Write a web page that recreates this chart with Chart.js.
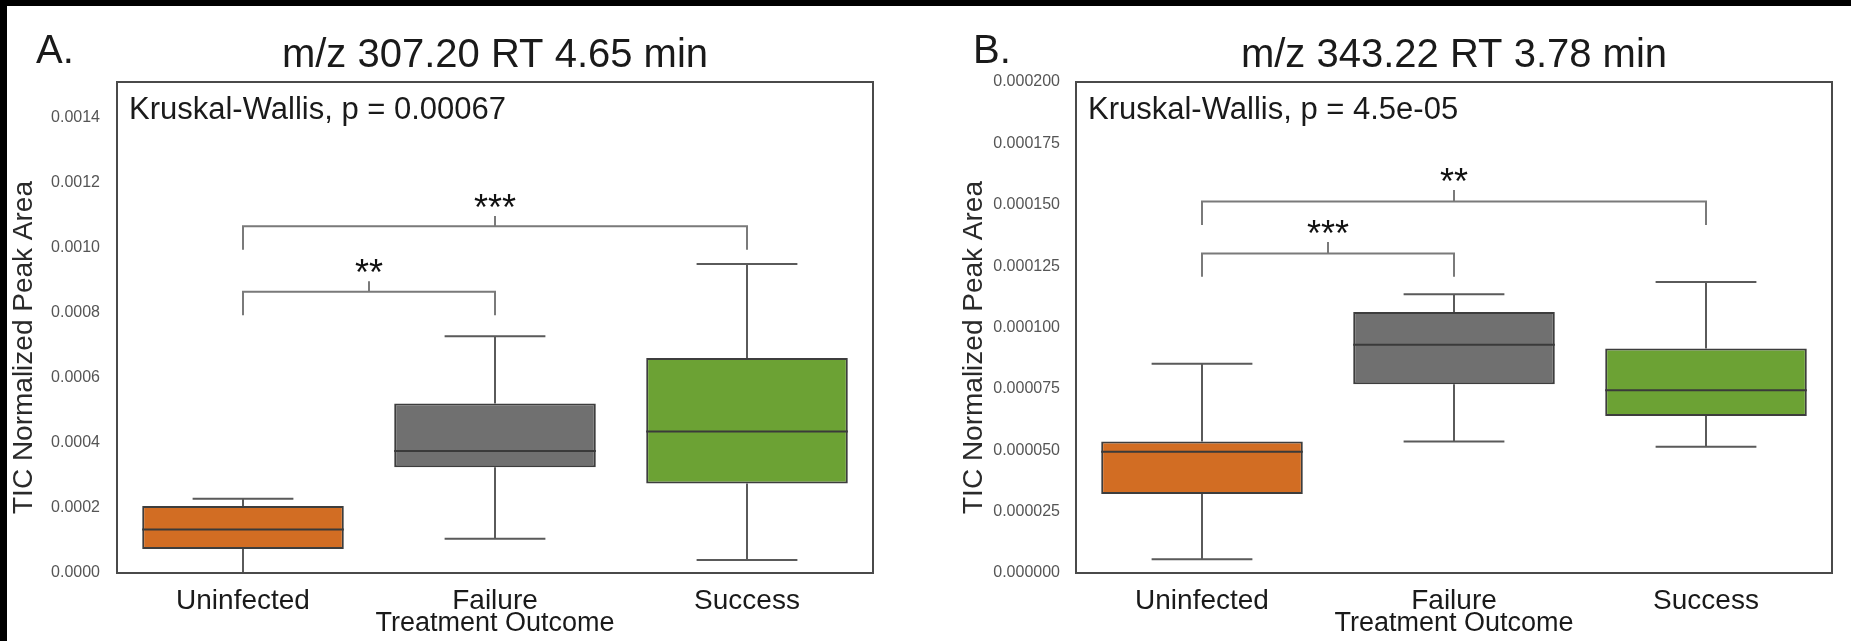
<!DOCTYPE html>
<html>
<head>
<meta charset="utf-8">
<script src="https://cdn.jsdelivr.net/npm/chart.js@4/dist/chart.umd.min.js"></script>
<style>
body { margin:0; background:#000; width:1851px; height:641px; overflow:hidden; }
.panel { position:absolute; top:6px; height:635px; background:#fff; }
#panelA { left:7px; width:918px; }
#panelB { left:925px; width:926px; }
canvas { display:block; }
</style>
</head>
<body>
<div class="panel" id="panelA"><canvas id="chartA" width="918" height="635" style="width:918px;height:635px"></canvas></div>
<div class="panel" id="panelB"><canvas id="chartB" width="926" height="635" style="width:926px;height:635px"></canvas></div>
<script>
var categories = ['Uninfected', 'Failure', 'Success'];
var boxColors = ['#D26D23', '#707070', '#6CA234'];

// panel A: m/z 307.20
var lowA = [0.0, 0.000105, 0.00004];
var q1A = [0.000074, 0.000325, 0.000275];
var medA = [0.000134, 0.000375, 0.000435];
var q3A = [0.000206, 0.000521, 0.000661];
var highA = [0.000228, 0.000728, 0.00095];
var pairsA = [[0, 1], [0, 2]];
var barYA = [0.000865, 0.001066];
var legYA = [0.000793, 0.000994];
var tickYA = [0.000897, 0.001098];
var starsA = ['**', '***'];

// panel B: m/z 343.22
var lowB = [0.0000056, 0.0000536, 0.0000514];
var q1B = [0.0000322, 0.0000769, 0.000064];
var medB = [0.0000494, 0.000093, 0.0000744];
var q3B = [0.0000536, 0.0001063, 0.0000914];
var highB = [0.0000852, 0.0001135, 0.0001185];
var pairsB = [[0, 1], [0, 2]];
var barYB = [0.0001301, 0.0001513];
var legYB = [0.0001207, 0.0001418];
var tickYB = [0.0001348, 0.000156];
var starsB = ['***', '**'];

var FONT = "'Liberation Sans', Arial, sans-serif";

function makeChart(id, p) {
    var ctx = document.getElementById(id).getContext('2d');

    var boxParts = {
        id: 'boxParts',
        beforeDatasetsDraw: function(chart) {
            var c = chart.ctx, y = chart.scales.y;
            var bars = chart.getDatasetMeta(0).data;
            c.save();
            c.strokeStyle = '#5a5a5a';
            c.lineWidth = 2;
            for (var i = 0; i < bars.length; i++) {
                var x = bars[i].x, half = bars[i].width / 4;
                c.beginPath();
                c.moveTo(x, y.getPixelForValue(p.low[i]));
                c.lineTo(x, y.getPixelForValue(p.q1[i]));
                c.moveTo(x, y.getPixelForValue(p.q3[i]));
                c.lineTo(x, y.getPixelForValue(p.high[i]));
                c.moveTo(x - half, y.getPixelForValue(p.low[i]));
                c.lineTo(x + half, y.getPixelForValue(p.low[i]));
                c.moveTo(x - half, y.getPixelForValue(p.high[i]));
                c.lineTo(x + half, y.getPixelForValue(p.high[i]));
                c.stroke();
            }
            c.restore();
        },
        afterDatasetsDraw: function(chart) {
            var c = chart.ctx, y = chart.scales.y, xs = chart.scales.x;
            var a = chart.chartArea;
            var bars = chart.getDatasetMeta(0).data;
            c.save();
            // medians
            c.strokeStyle = '#3a3a3a';
            c.lineWidth = 2;
            for (var i = 0; i < bars.length; i++) {
                var m = y.getPixelForValue(p.med[i]);
                c.beginPath();
                c.moveTo(bars[i].x - bars[i].width / 2, m);
                c.lineTo(bars[i].x + bars[i].width / 2, m);
                c.stroke();
            }
            // frame
            c.strokeStyle = '#4a4a4a';
            c.strokeRect(a.left, a.top, a.right - a.left, a.bottom - a.top);
            // significance brackets
            c.strokeStyle = '#7a7a7a';
            c.fillStyle = '#111';
            c.font = '36px ' + FONT;
            c.textAlign = 'center';
            c.textBaseline = 'alphabetic';
            for (var k = 0; k < p.pairs.length; k++) {
                var x1 = xs.getPixelForValue(p.pairs[k][0]);
                var x2 = xs.getPixelForValue(p.pairs[k][1]);
                var yb = y.getPixelForValue(p.barY[k]);
                var yl = y.getPixelForValue(p.legY[k]);
                var yt = y.getPixelForValue(p.tickY[k]);
                var xm = (x1 + x2) / 2;
                c.beginPath();
                c.moveTo(x1, yl);
                c.lineTo(x1, yb);
                c.lineTo(x2, yb);
                c.lineTo(x2, yl);
                c.moveTo(xm, yb);
                c.lineTo(xm, yt);
                c.stroke();
                c.fillText(p.stars[k], xm, yt + 4);
            }
            // test annotation and panel letter
            c.textAlign = 'left';
            c.fillStyle = '#1a1a1a';
            c.font = '31px ' + FONT;
            c.fillText(p.test, a.left + 12, a.top + 37);
            c.font = '40px ' + FONT;
            c.fillText(p.letter, p.letterX, 57);
            // y axis title
            c.translate(p.yTitleX, (a.top + a.bottom) / 2 + 20);
            c.rotate(-Math.PI / 2);
            c.textAlign = 'center';
            c.textBaseline = 'middle';
            c.fillStyle = '#2a2a2a';
            c.font = '28px ' + FONT;
            c.fillText('TIC Normalized Peak Area', 0, 0);
            c.restore();
        }
    };

    return new Chart(ctx, {
        type: 'bar',
        data: {
            labels: categories,
            datasets: [{
                data: p.q1.map(function(v, i) { return [v, p.q3[i]]; }),
                backgroundColor: boxColors,
                borderColor: '#3d3d3d',
                borderWidth: 2,
                borderSkipped: false,
                barPercentage: 0.8,
                categoryPercentage: 1
            }]
        },
        options: {
            responsive: false,
            animation: false,
            events: [],
            layout: { padding: { left: 0, right: p.rightPad, top: 0, bottom: 0 } },
            plugins: {
                legend: { display: false },
                tooltip: { enabled: false },
                title: {
                    display: true,
                    text: p.title,
                    fullSize: false,
                    color: '#1a1a1a',
                    font: { family: FONT, size: 40, weight: 'normal', lineHeight: 1.2 },
                    padding: { top: 26, bottom: 2 }
                }
            },
            scales: {
                x: {
                    grid: { display: false, drawTicks: false },
                    border: { display: false },
                    ticks: { color: '#1a1a1a', font: { family: FONT, size: 28 }, padding: 11 },
                    title: {
                        display: true,
                        text: 'Treatment Outcome',
                        color: '#1a1a1a',
                        font: { family: FONT, size: 27, lineHeight: 1 },
                        padding: { top: 0, bottom: 4 }
                    },
                    afterFit: function(s) { s.height = 68; }
                },
                y: {
                    min: 0,
                    max: p.yMax,
                    grid: { display: false, drawTicks: false },
                    border: { display: false },
                    ticks: {
                        stepSize: p.step,
                        color: '#555',
                        font: { family: FONT, size: 16 },
                        padding: p.tickPad,
                        callback: function(v) { return v.toFixed(p.dec); }
                    },
                    afterBuildTicks: function(s) {
                        s.ticks = s.ticks.filter(function(t) {
                            var r = t.value / p.step;
                            return Math.abs(r - Math.round(r)) < 1e-6;
                        });
                    },
                    afterFit: function(s) { s.width = p.axisWidth; }
                }
            }
        },
        plugins: [boxParts]
    });
}

makeChart('chartA', {
    title: 'm/z 307.20 RT 4.65 min', letter: 'A.', letterX: 29,
    test: 'Kruskal-Wallis, p = 0.00067',
    low: lowA, q1: q1A, med: medA, q3: q3A, high: highA,
    pairs: pairsA, barY: barYA, legY: legYA, tickY: tickYA, stars: starsA,
    yMax: 0.00151, step: 0.0002, dec: 4,
    axisWidth: 110, rightPad: 52, tickPad: 17, yTitleX: 17
});

makeChart('chartB', {
    title: 'm/z 343.22 RT 3.78 min', letter: 'B.', letterX: 48,
    test: 'Kruskal-Wallis, p = 4.5e-05',
    low: lowB, q1: q1B, med: medB, q3: q3B, high: highB,
    pairs: pairsB, barY: barYB, legY: legYB, tickY: tickYB, stars: starsB,
    yMax: 0.0002, step: 0.000025, dec: 6,
    axisWidth: 151, rightPad: 19, tickPad: 16, yTitleX: 49
});
</script>
</body>
</html>
